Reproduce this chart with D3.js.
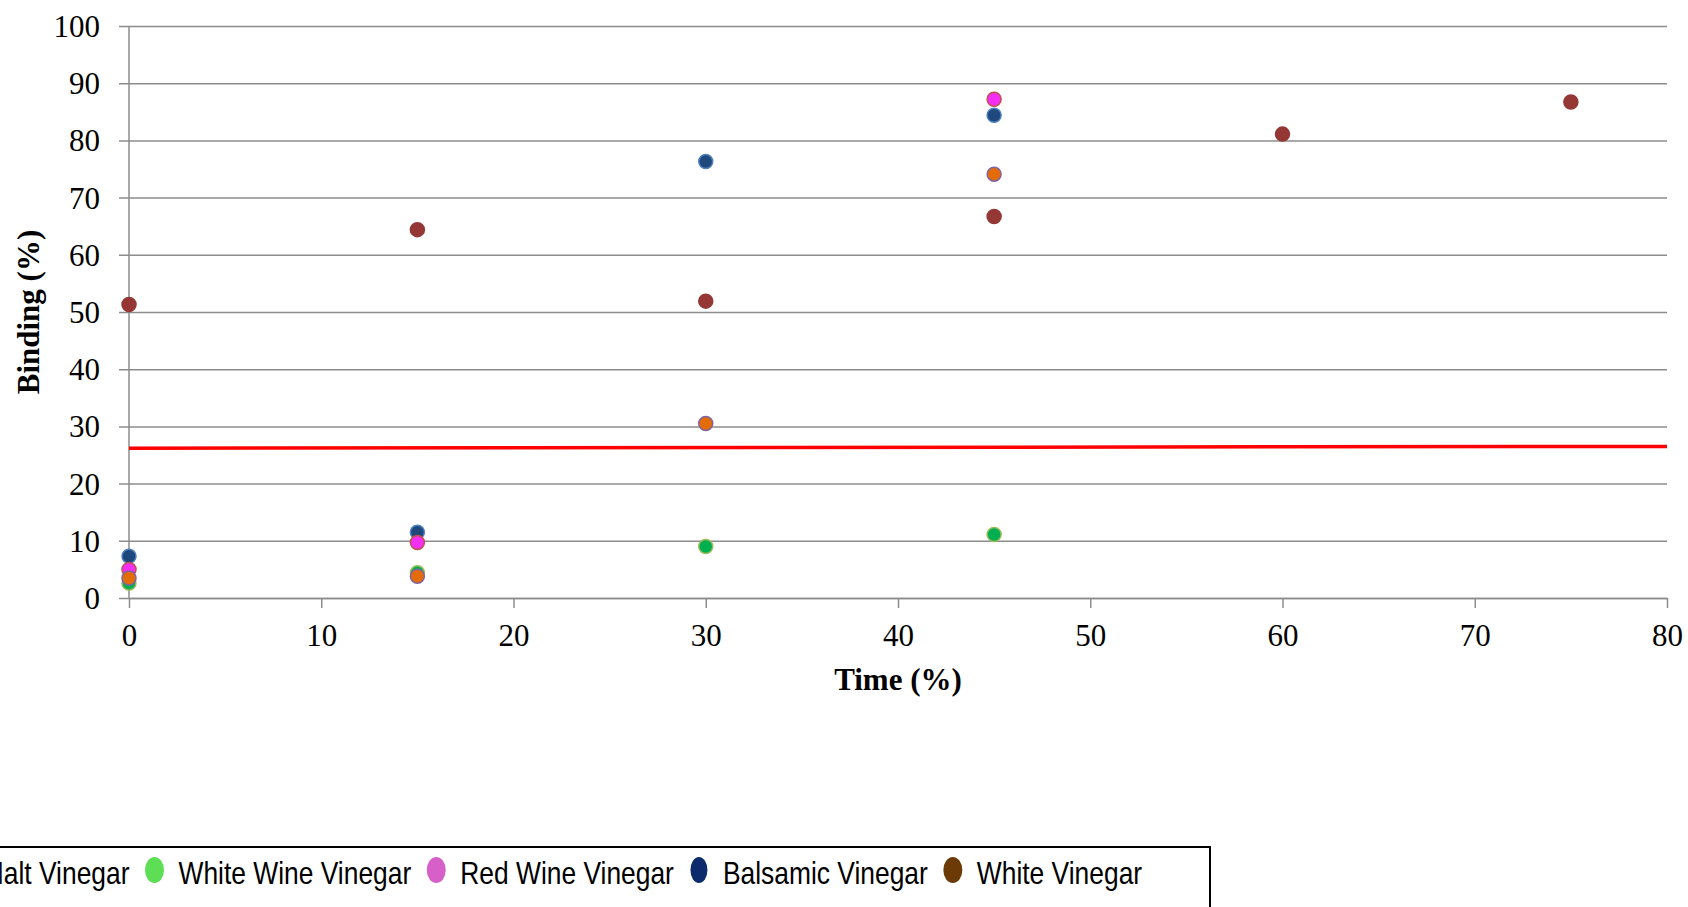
<!DOCTYPE html>
<html>
<head>
<meta charset="utf-8">
<script src="https://cdn.jsdelivr.net/npm/d3@7"></script>
<style>
  html, body { margin: 0; padding: 0; background: #fff; overflow: hidden; }
  svg { display: block; }
</style>
</head>
<body>
<div id="chart"></div>
<script>
// --- data ---
const times = [0, 15, 30, 45, 60, 75];
const whiteVinegar = [51.3, 64.4, 51.9, 66.7, 81.1, 86.7];
const balsamicVinegar = [7.3, 11.5, 76.3, 84.4];
const redWineVinegar = [5.0, 9.7, null, 87.2];
const whiteWineVinegar = [2.6, 4.4, 9.0, 11.1];
const maltVinegar = [3.5, 3.8, 30.5, 74.1];

const cutoffTimes = [0, 80];
const cutoffValues = [26.2, 26.5];

const xTicks = [0, 10, 20, 30, 40, 50, 60, 70, 80];
const yTicks = [0, 10, 20, 30, 40, 50, 60, 70, 80, 90, 100];

const legendNames = ['Malt Vinegar', 'White Wine Vinegar', 'Red Wine Vinegar', 'Balsamic Vinegar', 'White Vinegar'];

// draw order: later ones sit on top
const series = [
  { name: 'White Vinegar', values: whiteVinegar, fill: '#953735', stroke: '#953735', swatch: '#6b3a06' },
  { name: 'Balsamic Vinegar', values: balsamicVinegar, fill: '#1f497d', stroke: '#4f81bd', swatch: '#0d2a6b' },
  { name: 'Red Wine Vinegar', values: redWineVinegar, fill: '#f22ff2', stroke: '#c0504d', swatch: '#d660c8' },
  { name: 'White Wine Vinegar', values: whiteWineVinegar, fill: '#00b050', stroke: '#9bbb59', swatch: '#5ede55' },
  { name: 'Malt Vinegar', values: maltVinegar, fill: '#e36c09', stroke: '#8064a2', swatch: '#e36c09' }
];

const width = 1688, height = 907;
const plot = { left: 129, right: 1667, top: 26, bottom: 598 };

const svg = d3.select('#chart').append('svg')
  .attr('width', width)
  .attr('height', height);

const x = d3.scaleLinear().domain([0, 80]).range([plot.left, plot.right]);
const y = d3.scaleLinear().domain([0, 100]).range([plot.bottom, plot.top]);

const serif = '"Liberation Serif", "Times New Roman", serif';
const sans = '"Liberation Sans", Arial, sans-serif';
const gridColor = '#8c8c8c';

// --- y gridlines + labels ---
const yAxis = svg.append('g')
  .attr('transform', `translate(${plot.left - 10},0)`)
  .call(d3.axisLeft(y).tickValues(yTicks).tickSize(-(plot.right - plot.left + 10)).tickPadding(19).tickFormat(d3.format('d')));
yAxis.select('.domain').remove();
yAxis.selectAll('.tick line').attr('stroke', gridColor).attr('stroke-width', 1.5);
yAxis.selectAll('.tick text')
  .attr('font-family', serif)
  .attr('font-size', '31px')
  .attr('fill', '#000')
  .attr('dy', '0.34em');

// --- x axis ---
const xAxis = svg.append('g')
  .attr('transform', `translate(0,${plot.bottom})`)
  .call(d3.axisBottom(x).tickValues(xTicks).tickSize(10).tickSizeOuter(0).tickPadding(16).tickFormat(d3.format('d')));
xAxis.select('.domain').attr('stroke', gridColor).attr('stroke-width', 1.5);
xAxis.selectAll('.tick line').attr('stroke', gridColor).attr('stroke-width', 1.5);
xAxis.selectAll('.tick text')
  .attr('font-family', serif)
  .attr('font-size', '31px')
  .attr('fill', '#000');

// y axis line
svg.append('line')
  .attr('x1', plot.left).attr('x2', plot.left)
  .attr('y1', plot.top).attr('y2', plot.bottom)
  .attr('stroke', gridColor).attr('stroke-width', 1.5);

// --- axis titles ---
svg.append('text')
  .attr('x', (plot.left + plot.right) / 2)
  .attr('y', 690)
  .attr('text-anchor', 'middle')
  .attr('font-family', serif)
  .attr('font-weight', 'bold')
  .attr('font-size', '31px')
  .text('Time (%)');

svg.append('text')
  .attr('transform', `translate(38.5,${(plot.top + plot.bottom) / 2}) rotate(-90)`)
  .attr('text-anchor', 'middle')
  .attr('font-family', serif)
  .attr('font-weight', 'bold')
  .attr('font-size', '31px')
  .text('Binding (%)');

// --- cutoff line ---
const cutoff = cutoffTimes.map((t, i) => ({ t, v: cutoffValues[i] }));
svg.append('path')
  .datum(cutoff)
  .attr('fill', 'none')
  .attr('stroke', '#ff0000')
  .attr('stroke-width', 3.5)
  .attr('d', d3.line().x(d => x(d.t)).y(d => y(d.v)));

// --- points ---
series.forEach(s => {
  const pts = s.values.map((v, i) => ({ t: times[i], v })).filter(d => d.v != null);
  svg.append('g')
    .selectAll('circle')
    .data(pts)
    .join('circle')
    .attr('cx', d => x(d.t))
    .attr('cy', d => y(d.v))
    .attr('r', 7)
    .attr('fill', s.fill)
    .attr('stroke', s.stroke)
    .attr('stroke-width', 1.5);
});

// --- legend (cut off on the left like the source) ---
const legendTop = 847;
const legendBase = 884;
const lg = svg.append('g');
const swatchOf = name => series.find(s => s.name === name).swatch;

const items = legendNames.map(name => {
  const t = lg.append('text')
    .attr('font-family', sans)
    .attr('font-size', '26.4px')
    .attr('fill', '#000')
    .text(name);
  const w = t.node().getComputedTextLength();
  return { name, t, w };
});
// first item's text ends just right of the plot's left edge
let cursor = 129.5 - items[0].w;
items.forEach((it, i) => {
  if (i > 0) {
    const cx = cursor + 25;
    lg.append('ellipse')
      .attr('cx', cx)
      .attr('cy', 870)
      .attr('rx', it.name === 'Balsamic Vinegar' ? 8.5 : 9.5)
      .attr('ry', 13)
      .attr('fill', swatchOf(it.name));
    cursor = cx + 24;
  }
  it.t.attr('transform', `translate(${cursor},${legendBase}) scale(1,1.18)`);
  cursor += it.w;
});
lg.append('rect')
  .attr('x', -10)
  .attr('y', legendTop)
  .attr('width', 1210 + 10)
  .attr('height', 100)
  .attr('fill', 'none')
  .attr('stroke', '#000')
  .attr('stroke-width', 2);
</script>
</body>
</html>
